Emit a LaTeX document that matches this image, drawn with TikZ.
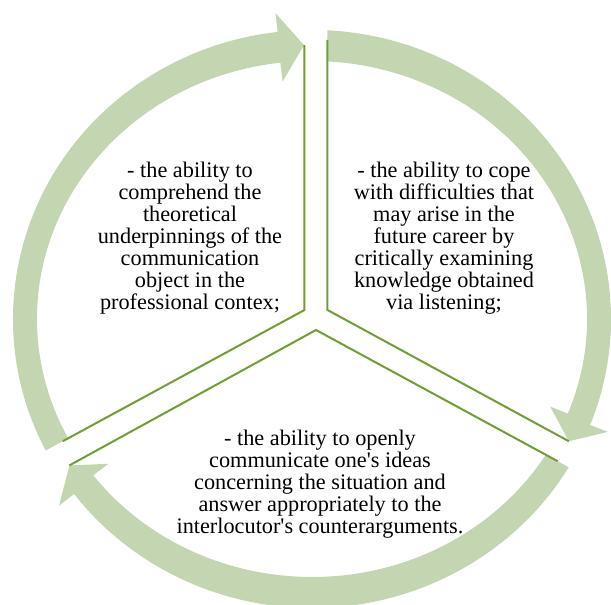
\documentclass[tikz,border=0pt]{standalone}
\usepackage{fontspec}
\setmainfont{Liberation Serif}
\definecolor{ringgreen}{RGB}{196,214,177}
\definecolor{rimgreen}{RGB}{110,158,52}
\newcommand{\cyclearrow}[3]{%
	\fill[ring] ({-4+299*cos(#1)},{-2+289*sin(#1)})
		arc[start angle=#1, end angle=#2, x radius=299, y radius=289]
		-- ({-4+318*cos(#2)},{-2+308*sin(#2)})
		-- ({-4+287*cos(#3)},{-2+274*sin(#3)})
		-- ({-4+256*cos(#2)},{-2+239*sin(#2)})
		-- ({-4+275*cos(#2)},{-2+258*sin(#2)})
		arc[start angle=#2, end angle=#1, x radius=275, y radius=258]
		-- cycle;}

\begin{document}
\begin{tikzpicture}[x=0.75pt,y=0.75pt]
	\useasboundingbox (-316,-288) rectangle (295,317);
	\tikzstyle{ring} = [fill=ringgreen]
	\tikzstyle{rim} = [draw=rimgreen, line width=1.5pt]
	\tikzstyle{blurb} = [align=center, inner sep=0pt, font=\fontsize{16.7}{16.5}\selectfont]
	\coordinate (V1) at (-11.5,7);
	\coordinate (V2) at (11.5,7);
	\coordinate (V3) at (0,-13);
	\coordinate (TA) at ({-4+287*cos(91.6)},{-2+274*sin(91.6)});
	\coordinate (TB) at ({-4+287*cos(-26.5)},{-2+274*sin(-26.5)});
	\coordinate (TC) at ({-4+287*cos(212.3)},{-2+274*sin(212.3)});
	\coordinate (UB) at (11.5,277);
	\path (V1) ++(208.5:275) coordinate (LA);
	\path (V3) ++(-28.5:275) coordinate (LC);
	\begin{scope}
		\clip[rotate around={28.5:(V1)}] (-611.5,7) rectangle (588.5,607);
		\cyclearrow{215}{96.6}{91.6}
	\end{scope}
	\begin{scope}
		\clip (11.5,-400) rectangle (400,400);
		\cyclearrow{95}{-21.5}{-26.5}
	\end{scope}
	\begin{scope}
		\clip[rotate around={-28.5:(V3)}] (-600,-13) rectangle (600,-613);
		\cyclearrow{-20}{-142.7}{-147.7}
	\end{scope}
	\draw[rim] (V1 |- TA) -- (V1) -- (LA);
	\draw[rim] (UB) -- (V2) -- (TB);
	\draw[rim] (TC) -- (V3) -- (LC);
	\node[blurb] (ability1) at (-126,79) {- the ability to\\comprehend the\\theoretical\\underpinnings of the\\communication\\object in the\\professional contex;};
	\node[blurb] (ability2) at (128,79) {- the ability to cope\\with difficulties that\\may arise in the\\future career by\\critically examining\\knowledge obtained\\via listening;};
	\node[blurb] (ability3) at (4,-167) {- the ability to openly\\communicate one\textquotesingle s ideas\\concerning the situation and\\answer appropriately to the\\interlocutor\textquotesingle s counterarguments.};
\end{tikzpicture}
\end{document}
